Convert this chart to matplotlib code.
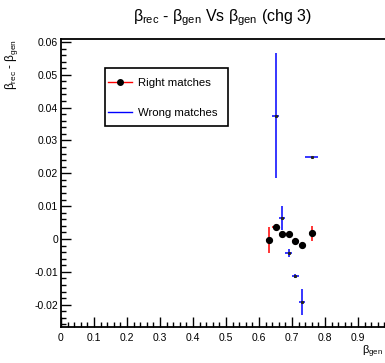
import matplotlib
matplotlib.use("Agg")
import matplotlib.pyplot as plt
from matplotlib.ticker import MultipleLocator, FuncFormatter
from matplotlib.lines import Line2D
from matplotlib.patches import Rectangle

plt.rcParams['font.family'] = ['Liberation Sans', 'DejaVu Sans']
plt.rcParams['mathtext.fontset'] = 'custom'
plt.rcParams['mathtext.rm'] = 'Liberation Sans'
plt.rcParams['mathtext.it'] = 'Liberation Sans'

# Right matches
right_x = [0.63, 0.65, 0.67, 0.69, 0.71, 0.73, 0.76]
right_y = [-0.0003, 0.0037, 0.0014, 0.0014, -0.0005, -0.0018, 0.0017]
right_xerr = [0.01, 0.01, 0.01, 0.01, 0.01, 0.01, 0.01]
right_yerr = [0.0040, 0.0010, 0.0008, 0.0008, 0.0008, 0.0008, 0.0024]

# Wrong matches
wrong_x = [0.65, 0.67, 0.69, 0.71, 0.73, 0.76]
wrong_y = [0.0375, 0.0063, -0.0042, -0.0113, -0.0191, 0.0250]
wrong_xerr = [0.01, 0.01, 0.01, 0.01, 0.01, 0.02]
wrong_yerr = [0.0190, 0.0036, 0.0013, 0.0007, 0.0040, 0.0]

W, H = 385, 363
fig = plt.figure(figsize=(W/100, H/100), dpi=100)
ax = fig.add_axes([61/W, 1-327/H, 330/W, 288/H])

ax.errorbar(right_x, right_y, xerr=right_xerr, yerr=right_yerr, fmt='o',
            color='black', ecolor='red', elinewidth=1.1, markersize=4.2,
            capsize=0, zorder=3)
ax.errorbar(wrong_x, wrong_y, xerr=wrong_xerr, yerr=wrong_yerr, fmt='none',
            ecolor='blue', elinewidth=1.1, capsize=0, zorder=2)
ax.plot(wrong_x, wrong_y, 's', color='#222222', markersize=1.2, zorder=4)

ax.set_xlim(0, 1.0)
ax.set_ylim(-0.0268, 0.0609)

ax.xaxis.set_major_locator(MultipleLocator(0.1))
ax.xaxis.set_minor_locator(MultipleLocator(0.02))
ax.yaxis.set_major_locator(MultipleLocator(0.01))
ax.yaxis.set_minor_locator(MultipleLocator(0.002))

def fmt(v, pos):
    if abs(v) < 1e-9:
        return '0'
    if v > 0.95:
        return ''
    return '%g' % round(v, 3)
ax.xaxis.set_major_formatter(FuncFormatter(fmt))
ax.yaxis.set_major_formatter(FuncFormatter(fmt))

ax.tick_params(which='both', direction='in', labelsize=7.5, colors='black')
ax.tick_params(which='major', length=7, width=1)
ax.tick_params(which='minor', length=3.5, width=1)
ax.tick_params(axis='x', pad=4)
ax.tick_params(axis='y', pad=2)
for s in ax.spines.values():
    s.set_linewidth(1.3)

fig.text(222/W, 1-18/H, r'$\beta_{rec}$ - $\beta_{gen}$ Vs $\beta_{gen}$ (chg 3)',
         ha='center', va='center', fontsize=11.5)
fig.text(372/W, 1-352/H, r'$\beta_{gen}$', ha='center', va='center', fontsize=8)
fig.text(12/W, 1-64/H, r'$\beta_{rec}$ - $\beta_{gen}$', ha='center', va='center',
         fontsize=8.5, rotation=90)

# legend box (fixed size, as in the reference)
fig.patches.append(Rectangle((105/W, 1-126/H), 123/W, 58/H, transform=fig.transFigure,
                             facecolor='white', edgecolor='black', linewidth=1.2,
                             zorder=5))
handles = [Line2D([], [], color='red', marker='o', markerfacecolor='black',
                  markeredgecolor='black', markersize=4, lw=1),
           Line2D([], [], color='blue', lw=1)]
leg = fig.legend(handles, ['Right matches', 'Wrong matches'],
                 loc='upper left', bbox_to_anchor=(108/W, 1-78/H),
                 fontsize=8.2, frameon=False,
                 handlelength=2.1, handletextpad=0.55, labelspacing=1.75,
                 borderpad=0.0, borderaxespad=0)
leg.set_zorder(6)

fig.savefig('out.png', dpi=100)
